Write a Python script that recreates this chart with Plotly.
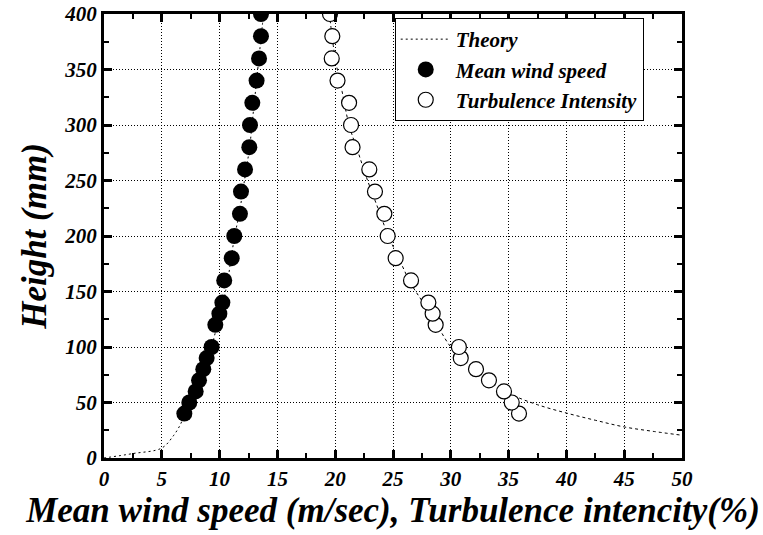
import plotly.graph_objects as go

# Heights (mm)
height_mean = [40, 50, 60, 70, 80, 90, 100, 120, 130, 140, 160, 180, 200,
               220, 240, 260, 280, 300, 320, 340, 360, 380, 400]
mean_speed = [6.95, 7.38, 7.93, 8.22, 8.59, 8.88, 9.31, 9.63, 9.98, 10.24, 10.4, 11.05, 11.27,
              11.76, 11.85, 12.2, 12.57, 12.63, 12.83, 13.2, 13.41, 13.58, 13.58]

height_ti = [40, 50, 60, 70, 80, 90, 100, 120, 130, 140, 160, 180, 200,
             220, 240, 260, 280, 300, 320, 340, 360, 380, 400]
turb_int = [35.9, 35.27, 34.6, 33.3, 32.18, 30.86, 30.7, 28.69, 28.43, 28.06, 26.56, 25.23, 24.54,
            24.25, 23.44, 22.95, 21.5, 21.37, 21.2, 20.2, 19.7, 19.75, 19.55]

# Theory curves
theory_mean_u = [0, 2.5, 5, 6.0, 6.6, 7.0, 7.6, 8.0, 8.4, 8.7, 9.0, 9.3, 9.8, 10.3, 10.7,
                 11.0, 11.3, 11.7, 12.0, 12.3, 12.6, 12.8, 13.0, 13.2, 13.4, 13.6, 13.8]
theory_mean_h = [0, 4, 9, 20, 30, 40, 50, 60, 70, 80, 90, 100, 120, 140, 160,
                 180, 200, 220, 240, 260, 280, 300, 320, 340, 360, 380, 400]
theory_ti_x = [19.5, 20.0, 20.6, 21.2, 22.0, 22.8, 23.7, 24.6, 25.5, 26.5, 27.6, 28.8, 30.0,
               31.2, 32.6, 34.0, 35.5, 37.5, 40.0, 42.5, 45.0, 47.5, 50.0]
theory_ti_h = [400, 360, 330, 300, 275, 250, 225, 200, 180, 158, 140, 120, 100,
               88, 76, 65, 56, 48, 40.5, 34, 28, 24, 20.5]

x_ticks = list(range(0, 51, 5))
y_ticks = list(range(0, 401, 50))

FONT = "Liberation Serif, Times New Roman, serif"


def bi(s):
    return "<b><i>" + s + "</i></b>"


fig = go.Figure()
fig.add_trace(go.Scatter(x=theory_mean_u, y=theory_mean_h, mode="lines", name=bi("Theory"),
                         line=dict(color="black", width=1, dash="2px,3px"),
                         line_shape="spline"))
fig.add_trace(go.Scatter(x=theory_ti_x, y=theory_ti_h, mode="lines", name=bi("Theory"),
                         showlegend=False, line=dict(color="black", width=1, dash="3px,3px"),
                         line_shape="spline"))
fig.add_trace(go.Scatter(x=mean_speed, y=height_mean, mode="markers",
                         name=bi("Mean wind speed"),
                         marker=dict(color="black", size=16, symbol="circle")))
fig.add_trace(go.Scatter(x=turb_int, y=height_ti, mode="markers",
                         name=bi("Turbulence Intensity"),
                         marker=dict(color="white", size=15, symbol="circle",
                                     line=dict(color="black", width=1.2))))

tickfont = dict(family=FONT, size=21, color="black")

fig.update_layout(
    template="none",
    font=dict(family=FONT, size=20, color="black"),
    width=763, height=535,
    margin=dict(l=104, r=81, t=14, b=77),
    plot_bgcolor="white", paper_bgcolor="white",
    showlegend=True,
    legend=dict(x=0.503, y=0.991, xanchor="left", yanchor="top",
                bgcolor="white", bordercolor="black", borderwidth=1,
                font=dict(family=FONT, size=21, color="black"),
                tracegroupgap=0, itemwidth=50),
    xaxis=dict(range=[0, 50], tickvals=x_ticks, ticktext=[bi(str(v)) for v in x_ticks],
               showgrid=True, gridcolor="black", gridwidth=1, griddash="1px,2px",
               showline=True, linecolor="black", linewidth=3, mirror="allticks",
               ticks="inside", ticklen=8, tickwidth=3, tickcolor="black",
               minor=dict(ticks="inside", ticklen=5, tickwidth=2, dtick=2.5, tick0=0,
                          tickcolor="black", showgrid=False),
               zeroline=False, tickfont=tickfont,
               title=dict(text=bi("Mean wind speed (m/sec), Turbulence intencity(%)"),
                          font=dict(family=FONT, size=35, color="black"), standoff=4)),
    yaxis=dict(range=[0, 400], tickvals=y_ticks, ticktext=[bi(str(v)) for v in y_ticks],
               showgrid=True, gridcolor="black", gridwidth=1, griddash="1px,2px",
               showline=True, linecolor="black", linewidth=3, mirror="allticks",
               ticks="inside", ticklen=8, tickwidth=3, tickcolor="black",
               minor=dict(ticks="inside", ticklen=5, tickwidth=2, dtick=25, tick0=0,
                          tickcolor="black", showgrid=False),
               zeroline=False, tickfont=tickfont,
               title=dict(text=bi("Height (mm)"),
                          font=dict(family=FONT, size=35, color="black"), standoff=8)),
)

fig.write_html("out.html")
